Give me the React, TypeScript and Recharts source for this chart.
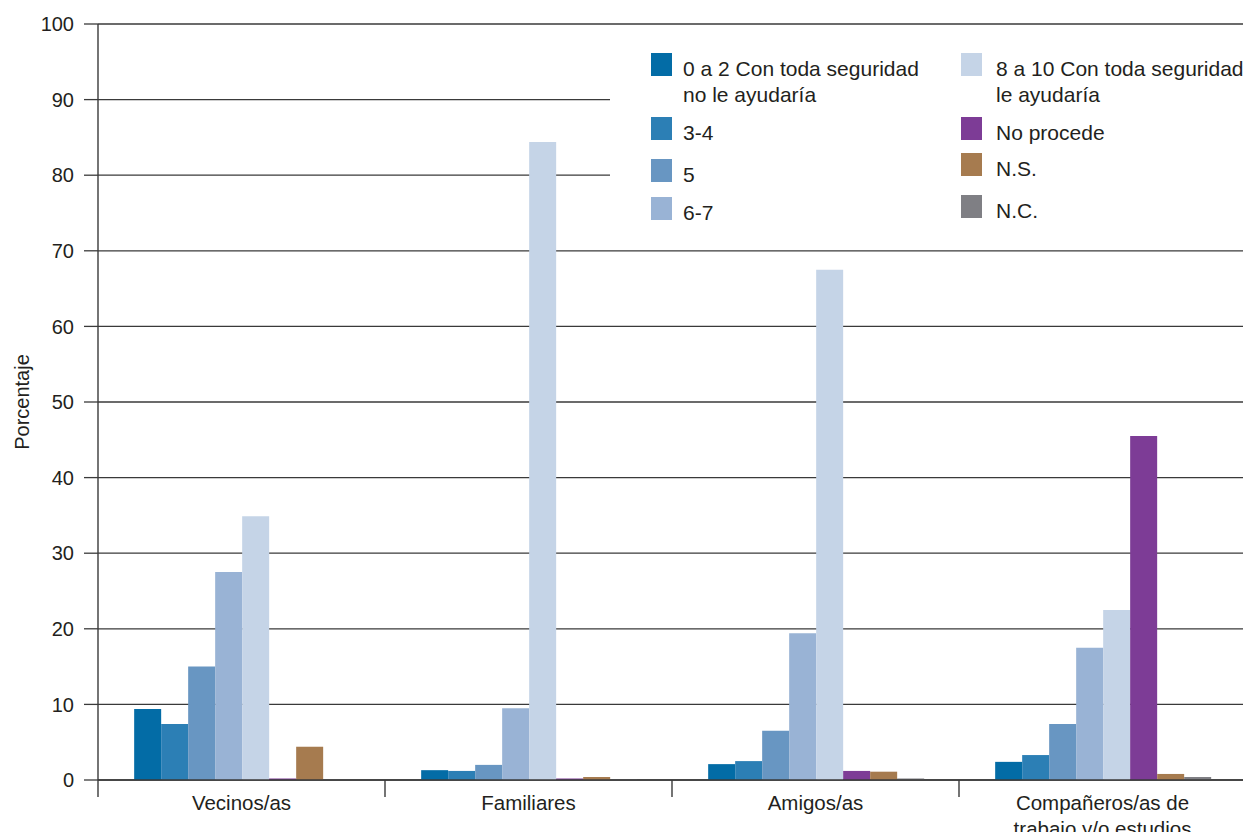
import React from "react";
import { Bar, BarChart, CartesianGrid, Legend, XAxis, YAxis } from "recharts";

const categories = [
  "Vecinos/as",
  "Familiares",
  "Amigos/as",
  "Compañeros/as de\ntrabajo y/o estudios"
];

const s0a2 = [9.4, 1.3, 2.1, 2.4];
const s3a4 = [7.4, 1.2, 2.5, 3.3];
const s5 = [15.0, 2.0, 6.5, 7.4];
const s6a7 = [27.5, 9.5, 19.4, 17.5];
const s8a10 = [34.9, 84.4, 67.5, 22.5];
const noProcede = [0.2, 0.2, 1.2, 45.5];
const ns = [4.4, 0.4, 1.1, 0.8];
const nc = [0.1, 0.1, 0.2, 0.4];

const yTicks = [0, 10, 20, 30, 40, 50, 60, 70, 80, 90, 100];

const series = [
  { key: "s0a2", name: "0 a 2 Con toda seguridad\nno le ayudaría", color: "#036ca6", values: s0a2 },
  { key: "s3a4", name: "3-4", color: "#2c7fb5", values: s3a4 },
  { key: "s5", name: "5", color: "#6896c2", values: s5 },
  { key: "s6a7", name: "6-7", color: "#99b3d5", values: s6a7 },
  { key: "s8a10", name: "8 a 10 Con toda seguridad\nle ayudaría", color: "#c5d4e7", values: s8a10 },
  { key: "noProcede", name: "No procede", color: "#7d3c96", values: noProcede },
  { key: "ns", name: "N.S.", color: "#a67b4f", values: ns },
  { key: "nc", name: "N.C.", color: "#7f7f84", values: nc }
];

const data = categories.map((cat, i) => {
  const row: Record<string, string | number> = { cat };
  series.forEach((s) => {
    row[s.key] = s.values[i];
  });
  return row;
});

const FONT = "'Liberation Sans', Arial, sans-serif";
const TEXT = "#231f20";
const LINE = "#3a3a3a";
const CHART_W = 1243;
const CHART_H = 832;
const MARGIN = { top: 16, right: 5, left: 0, bottom: 0 };
const Y_W = 90;
const BAND = (CHART_W - MARGIN.left - MARGIN.right - Y_W) / categories.length;

function CategoryTick(props: any) {
  const { x, y, payload, index } = props;
  const lines = String(payload.value).split("\n");
  return (
    <g>
      <line x1={x - BAND / 2} x2={x - BAND / 2} y1={y} y2={y + 17} stroke={LINE} strokeWidth={1.4} />
      {index === categories.length - 1 && (
        <line x1={x + BAND / 2} x2={x + BAND / 2} y1={y} y2={y + 17} stroke={LINE} strokeWidth={1.4} />
      )}
      <text x={x} y={y} textAnchor="middle" fontSize={20.5} fill={TEXT} fontFamily={FONT}>
        {lines.map((l, i) => (
          <tspan key={i} x={x} dy={i === 0 ? 30 : 26}>
            {l}
          </tspan>
        ))}
      </text>
    </g>
  );
}

const colLeft = [41, 351];
const textGap = [32, 35];
const rowTops = [
  [15, 79, 121, 159],
  [15, 79, 115, 157]
];

function LegendBox(props: any) {
  const payload = [...(props.payload || [])].sort(
    (a: any, b: any) =>
      series.findIndex((s) => s.key === a.dataKey) - series.findIndex((s) => s.key === b.dataKey)
  );
  return (
    <div style={{ position: "relative", width: "100%", height: "100%", fontFamily: FONT }}>
      {payload.map((entry: any, i: number) => {
        const col = i < 4 ? 0 : 1;
        const row = i % 4;
        const top = rowTops[col][row];
        const left = colLeft[col];
        return (
          <div key={i}>
            <div
              style={{
                position: "absolute",
                left,
                top,
                width: 21,
                height: 23,
                background: entry.color
              }}
            />
            <div
              style={{
                position: "absolute",
                left: left + textGap[col],
                top: top + 3,
                fontSize: 21,
                lineHeight: "26px",
                color: TEXT,
                whiteSpace: "pre",
                textAlign: "left"
              }}
            >
              {entry.value}
            </div>
          </div>
        );
      })}
    </div>
  );
}

export default function App() {
  return (
    <div style={{ width: CHART_W, height: 824, fontFamily: FONT }}>
      <BarChart width={CHART_W} height={CHART_H} data={data} margin={MARGIN} barCategoryGap="12.6%" barGap={0}>
        <CartesianGrid horizontal vertical={false} stroke={LINE} strokeWidth={1.3} />
        <XAxis
          dataKey="cat"
          height={60}
          interval={0}
          tickLine={false}
          tickSize={0}
          tickMargin={0}
          axisLine={{ stroke: LINE, strokeWidth: 1.4 }}
          tick={<CategoryTick />}
        />
        <YAxis
          width={Y_W}
          domain={[0, 100]}
          ticks={yTicks}
          interval={0}
          tickSize={14}
          tickMargin={10}
          axisLine={{ stroke: LINE, strokeWidth: 1.4 }}
          tickLine={{ stroke: LINE, strokeWidth: 1.3 }}
          tick={{ fill: TEXT, fontSize: 20, fontFamily: FONT }}
          label={{
            value: "Porcentaje",
            angle: -90,
            position: "insideLeft",
            offset: 14,
            style: { textAnchor: "middle", fill: TEXT, fontSize: 20, fontFamily: FONT }
          }}
        />
        <Legend
          layout="horizontal"
          verticalAlign="middle"
          align="center"
          content={<LegendBox />}
          wrapperStyle={{ position: "absolute", left: 602, top: 30, width: 641, height: 200, background: "#fff" }}
        />
        {series.map((s) => (
          <Bar key={s.key} dataKey={s.key} name={s.name} fill={s.color} isAnimationActive={false} />
        ))}
      </BarChart>
    </div>
  );
}
